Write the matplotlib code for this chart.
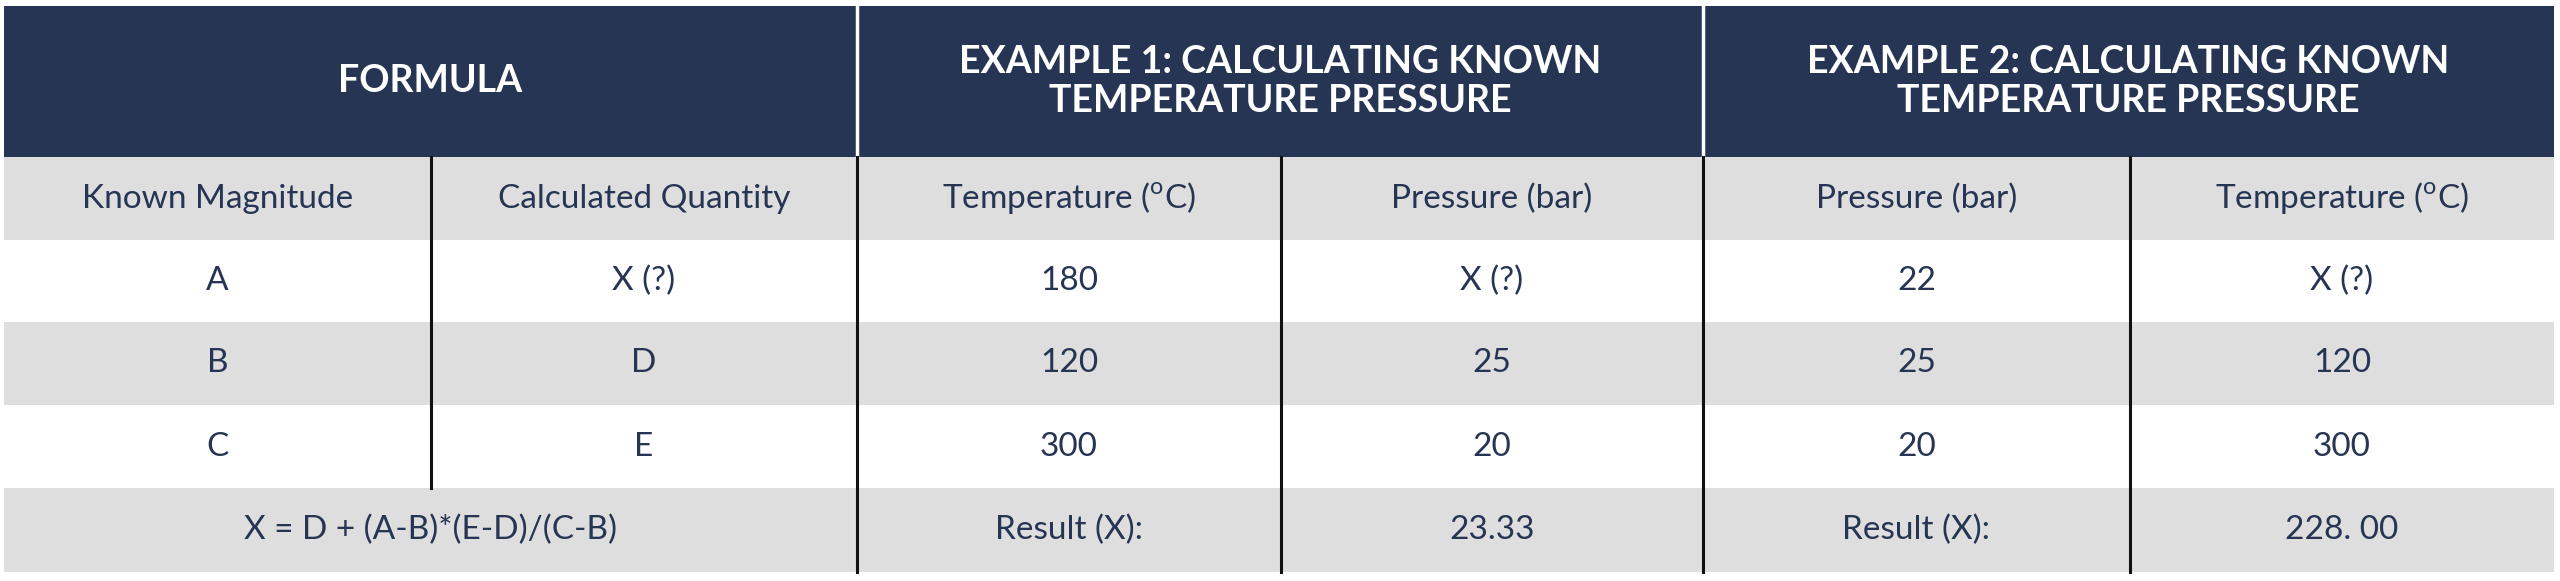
import matplotlib
matplotlib.use("Agg")
import matplotlib.pyplot as plt
from matplotlib.patches import Rectangle

plt.rcParams['font.family'] = ['Lato', 'DejaVu Sans']
plt.rcParams['mathtext.fontset'] = 'custom'
plt.rcParams['mathtext.rm'] = 'Lato'

headers = ["FORMULA", "EXAMPLE 1: CALCULATING KNOWN\nTEMPERATURE PRESSURE", "EXAMPLE 2: CALCULATING KNOWN\nTEMPERATURE PRESSURE"]
subheaders = ["Known Magnitude", "Calculated Quantity", "Temperature ($^{\\mathrm{o}}$C)", "Pressure (bar)", "Pressure (bar)", "Temperature ($^{\\mathrm{o}}$C)"]
rows = [["A", "X (?)", "180", "X (?)", "22", "X (?)"],
        ["B", "D", "120", "25", "25", "120"],
        ["C", "E", "300", "20", "20", "300"]]
last_row = ["X = D + (A-B)*(E-D)/(C-B)", "Result (X):", "23.33", "Result (X):", "228. 00"]

NAVY = "#263553"
GRAY = "#dedede"
W, H = 2560, 581
cols = [4, 431, 857, 1281, 1703, 2130, 2554]
ys = [6, 157, 240, 322, 405, 488, 572]

fig = plt.figure(figsize=(W/100, H/100), dpi=100)
ax = fig.add_axes([0, 0, 1, 1])
ax.set_xlim(0, W); ax.set_ylim(H, 0); ax.axis('off')

def rect(x0, y0, x1, y1, c):
    ax.add_patch(Rectangle((x0, y0), x1-x0, y1-y0, facecolor=c, edgecolor='none'))

def txt(x, y, s, **kw):
    ax.text(x, y, s, ha='center', va='center', color=kw.pop('color', NAVY), **kw)

# header
for i, h in enumerate(headers):
    x0, x1 = cols[2*i], cols[2*i+2]
    rect(x0, ys[0], x1, ys[1], NAVY)
    txt((x0+x1)/2, (ys[0]+ys[1])/2, h, color='white', fontsize=27, fontweight='bold', linespacing=1.15)
for x in [cols[2], cols[4]]:
    ax.plot([x, x], [ys[0], ys[1]], color='white', lw=2.5)

# subheader & rows
rect(cols[0], ys[1], cols[-1], ys[2], GRAY)
rect(cols[0], ys[3], cols[-1], ys[4], GRAY)
rect(cols[0], ys[5], cols[-1], ys[6], GRAY)
for j, s in enumerate(subheaders):
    txt((cols[j]+cols[j+1])/2, (ys[1]+ys[2])/2, s, fontsize=24)
for r, row in enumerate(rows):
    for j, s in enumerate(row):
        txt((cols[j]+cols[j+1])/2, (ys[r+2]+ys[r+3])/2, s, fontsize=24)
lx = [(cols[0]+cols[2])/2] + [(cols[j]+cols[j+1])/2 for j in range(2, 6)]
for x, s in zip(lx, last_row):
    txt(x, (ys[5]+ys[6])/2, s, fontsize=24)

# vertical rules
ax.plot([cols[1]]*2, [ys[1], ys[5]], color='#111111', lw=2.2)
for x in cols[2:6]:
    ax.plot([x, x], [ys[1], ys[6]], color='#111111', lw=2.2)

fig.savefig("out.png", dpi=100)
